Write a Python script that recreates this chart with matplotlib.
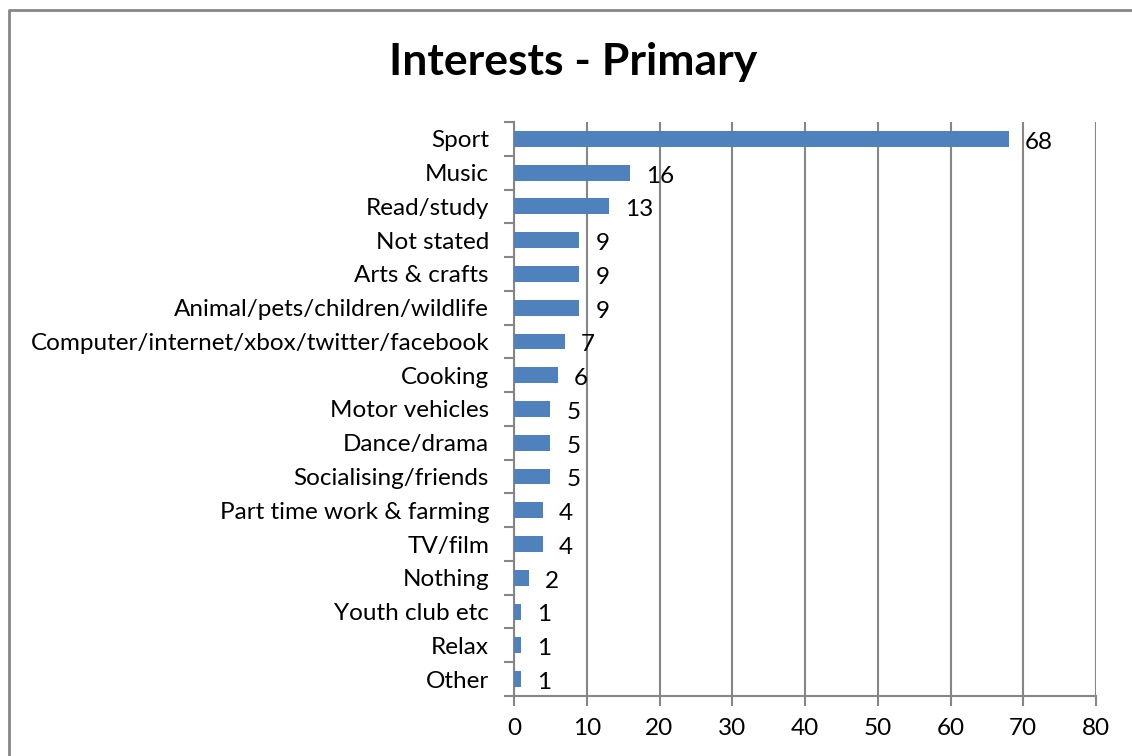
import matplotlib
matplotlib.use("Agg")
import matplotlib.pyplot as plt
from matplotlib.lines import Line2D
import numpy as np

# data, top to bottom as shown
categories = ['Sport', 'Music', 'Read/study', 'Not stated', 'Arts & crafts',
              'Animal/pets/children/wildlife',
              'Computer/internet/xbox/twitter/facebook', 'Cooking',
              'Motor vehicles', 'Dance/drama', 'Socialising/friends',
              'Part time work & farming', 'TV/film', 'Nothing',
              'Youth club etc', 'Relax', 'Other']
values = [68, 16, 13, 9, 9, 9, 7, 6, 5, 5, 5, 4, 4, 2, 1, 1, 1]
xticks = [0, 10, 20, 30, 40, 50, 60, 70, 80]

plt.rcParams['font.family'] = ['Lato', 'DejaVu Sans']
grey = '#868686'
fs = 17.5

fig = plt.figure(figsize=(11.32, 7.56), dpi=100)
ax = fig.add_axes([514/1132, 1-696/756, (1096-514)/1132, (696-122)/756])

y = np.arange(len(categories))
ax.barh(y, values, height=0.47, color='#4F81BD', zorder=3)
for yi, v in zip(y, values):
    ax.text(v + 2.2, yi + 0.1, str(v), va='center', ha='left', fontsize=fs)

ax.set_xlim(0, 80)
ax.set_ylim(len(categories) - 0.5, -0.5)
ax.set_xticks(xticks)
ax.set_xticklabels([str(t) for t in xticks], fontsize=fs)
ax.xaxis.grid(True, color=grey, linewidth=1.5, zorder=0)
ax.set_yticks(y)
ax.set_yticklabels(categories, fontsize=fs)
ax.set_yticks(np.arange(len(categories) + 1) - 0.5, minor=True)
ax.tick_params(axis='y', which='major', length=0, pad=18)
ax.tick_params(axis='y', which='minor', length=7, width=1.5, color=grey)
ax.tick_params(axis='x', length=7, width=1.5, color=grey, pad=9)

for s in ['top', 'right']:
    ax.spines[s].set_visible(False)
for s in ['left', 'bottom']:
    ax.spines[s].set_color(grey)
    ax.spines[s].set_linewidth(1.5)

fig.text(573/1132, 1-62/756, 'Interests - Primary', ha='center', va='center',
         fontsize=32, fontweight='bold')

# outer chart border (top and left only visible)
fig.add_artist(Line2D([9/1132, 9/1132, 1], [0, 1-10/756, 1-10/756],
                      transform=fig.transFigure, color=grey, linewidth=2))

fig.savefig('out.png', dpi=100)
